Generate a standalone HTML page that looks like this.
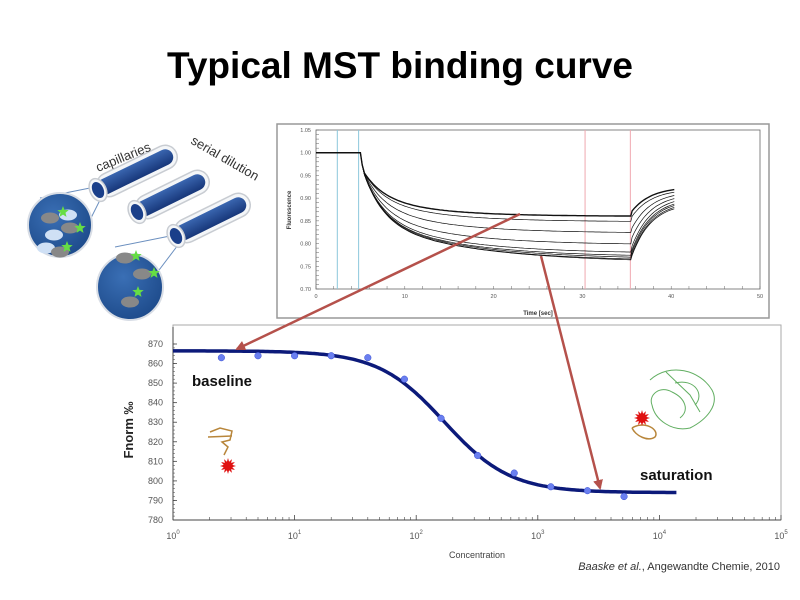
<!DOCTYPE html>
<html><head><meta charset="utf-8"><style>
html,body{margin:0;padding:0;background:#fff;width:800px;height:600px;overflow:hidden}
svg{display:block}
</style></head><body>
<svg id="s" width="800" height="600" xmlns="http://www.w3.org/2000/svg" font-family="Liberation Sans, sans-serif">
<defs>
<radialGradient id="cg" cx="40%" cy="35%" r="70%"><stop offset="0" stop-color="#3a6fb5"/><stop offset="1" stop-color="#1d4a8a"/></radialGradient>
<linearGradient id="tg" x1="0" y1="0" x2="0" y2="1"><stop offset="0" stop-color="#3a66b0"/><stop offset="1" stop-color="#17377a"/></linearGradient>
<marker id="ah" markerWidth="10" markerHeight="10" refX="8" refY="5" orient="auto" markerUnits="userSpaceOnUse"><path d="M0,0 L10,5 L0,10 z" fill="#b5514b"/></marker>
</defs>
<text x="400" y="78" text-anchor="middle" font-size="37" font-weight="bold" fill="#000">Typical MST binding curve</text>

<g id="tubes"></g>
<text transform="translate(98,172) rotate(-22)" font-size="13" fill="#333">capillaries</text>
<text transform="translate(190,143) rotate(30)" font-size="13" fill="#333">serial dilution</text>

<rect x="277" y="124" width="492" height="194" fill="#fff" stroke="#999" stroke-width="1.5"/>
<rect x="316" y="130" width="444" height="159" fill="none" stroke="#666" stroke-width="0.8"/>
<g id="top"></g>
<text transform="translate(291,210) rotate(-90)" text-anchor="middle" font-size="6" font-weight="bold" fill="#333">Fluorescence</text>
<text x="538" y="315" text-anchor="middle" font-size="6" font-weight="bold" fill="#333">Time [sec]</text>

<rect x="173" y="325" width="608" height="195" fill="#fff" stroke="#aaa" stroke-width="1"/>
<g id="bot"></g>
<text x="192" y="386" font-size="15" font-weight="bold" fill="#111">baseline</text>
<text x="640" y="480" font-size="15" font-weight="bold" fill="#111">saturation</text>
<text transform="translate(133,430) rotate(-90)" text-anchor="middle" font-size="13" font-weight="bold" fill="#222">Fnorm ‰</text>
<text x="477" y="558" text-anchor="middle" font-size="9" fill="#444">Concentration</text>
<text x="780" y="570" text-anchor="end" font-size="11" fill="#333"><tspan font-style="italic">Baaske et al.</tspan>, Angewandte Chemie, 2010</text>

<g stroke="#b8863b" fill="none" stroke-width="1.5">
<path d="M210,432 L220,428 L232,431 L230,440 L222,442 L228,447 L224,455 M208,437 L232,436"/>
</g>
<g stroke="#3a9a3a" fill="none" stroke-width="1" opacity="0.8">
<path d="M650,380 C670,362 700,370 712,390 C720,405 706,420 690,428 C672,432 655,420 652,405 C648,395 660,385 672,392 C685,398 690,410 680,418 M666,372 L690,395 L700,412 M675,383 C695,378 705,395 695,405"/>
</g>
<path d="M632,428 C645,420 660,430 655,437 C648,442 636,436 632,428" stroke="#b8863b" stroke-width="1.5" fill="none"/>
<path id="star1" fill="#e01010"/>
<path id="star2" fill="#e01010"/>

<line x1="520" y1="214" x2="237" y2="349" stroke="#b5514b" stroke-width="2.5" marker-end="url(#ah)"/>
<line x1="541" y1="256" x2="600" y2="488" stroke="#b5514b" stroke-width="2.5" marker-end="url(#ah)"/>
</svg>
<script>
var NS="http://www.w3.org/2000/svg";
function el(p,n,a,t){var e=document.createElementNS(NS,n);for(var k in a)e.setAttribute(k,a[k]);if(t!=null)e.textContent=t;p.appendChild(e);return e;}
var tg=document.getElementById('tubes');
function circ(cx,cy,r){el(tg,'circle',{cx:cx,cy:cy,r:r,fill:'url(#cg)',stroke:'#d8dde5','stroke-width':2});}
el(tg,'line',{x1:40,y1:198,x2:90,y2:188,stroke:'#6b8fbf','stroke-width':1});
el(tg,'line',{x1:82,y1:236,x2:100,y2:200,stroke:'#6b8fbf','stroke-width':1});
el(tg,'line',{x1:115,y1:247,x2:170,y2:236,stroke:'#6b8fbf','stroke-width':1});
el(tg,'line',{x1:150,y1:282,x2:178,y2:245,stroke:'#6b8fbf','stroke-width':1});
circ(60,225,32);circ(130,287,33);
function ov(cx,cy,c){el(tg,'ellipse',{cx:cx,cy:cy,rx:9,ry:5.5,fill:c});}
function st(cx,cy){var d='';for(var i=0;i<10;i++){var r=i%2?2.6:6,a=-Math.PI/2+i*Math.PI/5;d+=(i?'L':'M')+(cx+r*Math.cos(a)).toFixed(1)+','+(cy+r*Math.sin(a)).toFixed(1);}el(tg,'path',{d:d+'z',fill:'#66dd44'});}
ov(50,218,'#888');ov(68,215,'#cfe0f5');ov(70,228,'#888');ov(54,235,'#cfe0f5');ov(46,248,'#cfe0f5');ov(60,252,'#888');
st(63,212);st(80,228);st(67,247);
ov(125,258,'#888');ov(142,274,'#888');ov(130,302,'#888');st(136,256);st(154,273);st(138,292);
function tube(x1,y1,x2,y2){
 var a=Math.atan2(y2-y1,x2-x1)*180/Math.PI,L=Math.hypot(x2-x1,y2-y1);
 var g=el(tg,'g',{transform:'translate('+x1+','+y1+') rotate('+a+')'});
 el(g,'rect',{x:0,y:-12,width:L,height:24,rx:12,fill:'#f4f6f8',stroke:'#c8ccd2','stroke-width':1.5});
 el(g,'rect',{x:0,y:-8,width:L-4,height:16,rx:8,fill:'url(#tg)'});
 el(g,'ellipse',{cx:0,cy:0,rx:8,ry:12,fill:'#f4f6f8',stroke:'#c8ccd2','stroke-width':1.5});
 el(g,'ellipse',{cx:0,cy:0,rx:5.5,ry:8.5,fill:'#1a3f8a'});
}
tube(98,190,176,152);tube(137,212,208,177);tube(176,236,249,200);

var T=document.getElementById('top');
function tx(t){return 316+t*8.88;} function ty(v){return 130+(1.05-v)/0.35*159;}
var yl=['1.05','1.00','0.95','0.90','0.85','0.80','0.75','0.70'];
for(var i=0;i<8;i++){var y=130+i*159/7;el(T,'text',{x:311,y:y+2,'text-anchor':'end','font-size':5.5,fill:'#555'},yl[i]);}
for(var i=0;i<=5;i++){el(T,'text',{x:tx(i*10),y:298,'text-anchor':'middle','font-size':5.5,fill:'#555'},i*10);}
for(var t=0;t<=50;t+=2){el(T,'line',{x1:tx(t),y1:289,x2:tx(t),y2:286,stroke:'#666','stroke-width':0.5});}
for(var v=0;v<=35;v++){var y=130+v*159/35;el(T,'line',{x1:316,y1:y,x2:319,y2:y,stroke:'#666','stroke-width':0.5});}
[[2.4,'#8cc8dc'],[4.8,'#8cc8dc'],[30.3,'#f0a8b0'],[35.4,'#f0a8b0']].forEach(function(l){el(T,'line',{x1:tx(l[0]),y1:130,x2:tx(l[0]),y2:289,stroke:l[1],'stroke-width':1});});
var P=[0.86,0.848,0.823,0.797,0.778,0.770,0.765,0.760,0.757];
var E=[0.925,0.92,0.915,0.91,0.905,0.90,0.897,0.893,0.89];
P.forEach(function(p,k){
 var d='M'+tx(0)+','+ty(1);d+='L'+tx(5)+','+ty(1);
 for(var t=5.2;t<=35.5;t+=0.25){var f=p+(0.96-p)*(0.55*Math.exp(-(t-5.3)/2.2)+0.45*Math.exp(-(t-5.3)/(7+k*0.6)));if(t<5.3)f=1-(t-5)/0.3*0.04;d+='L'+tx(t).toFixed(1)+','+ty(f).toFixed(1);}
 var s=p+0.012+(k>2?0.005:0);
 for(var t=35.6;t<=40.5;t+=0.25){var f=E[k]-(E[k]-s)*Math.exp(-(t-35.6)/2.2);d+='L'+tx(t).toFixed(1)+','+ty(f).toFixed(1);}
 el(T,'path',{d:d,fill:'none',stroke:'#111','stroke-width':k==0?1.4:0.7});
});

var B=document.getElementById('bot');
function bx(c){return 173+Math.log10(c)*121.6;} function by(v){return 344+(870-v)/90*176;}
for(var v=780;v<=870;v+=10){el(B,'text',{x:163,y:by(v)+3,'text-anchor':'end','font-size':9,fill:'#555'},v);
 el(B,'line',{x1:173,y1:by(v),x2:177,y2:by(v),stroke:'#444','stroke-width':0.8});}
for(var v=780;v<=870;v+=2){el(B,'line',{x1:173,y1:by(v),x2:175,y2:by(v),stroke:'#444','stroke-width':0.5});}
el(B,'line',{x1:173,y1:327,x2:173,y2:520,stroke:'#444','stroke-width':1});
el(B,'line',{x1:173,y1:520,x2:781,y2:520,stroke:'#444','stroke-width':1});
for(var e=0;e<=5;e++){var x=173+e*121.6;
 var t=el(B,'text',{x:x,y:539,'text-anchor':'middle','font-size':9,fill:'#555'},'10');
 el(t,'tspan',{dy:-5,'font-size':6},e);
 if(e<5)for(var m=2;m<=9;m++){var xx=x+Math.log10(m)*121.6;el(B,'line',{x1:xx,y1:520,x2:xx,y2:517,stroke:'#444','stroke-width':0.6});}
 el(B,'line',{x1:x,y1:520,x2:x,y2:515,stroke:'#444','stroke-width':0.8});}
var d='';for(var l=0;l<=4.15;l+=0.02){var c=Math.pow(10,l);var f=794+72.5/(1+Math.pow(c/170,1.6));d+=(l?'L':'M')+bx(c).toFixed(1)+','+by(f).toFixed(1);}
el(B,'path',{d:d,fill:'none',stroke:'#0c1a7a','stroke-width':3.5});
[[2.5,863],[5,864],[10,864],[20,864],[40,863],[80,852],[160,832],[320,813],[640,804],[1280,797],[2560,795],[5120,792]].forEach(function(p){el(B,'circle',{cx:bx(p[0]),cy:by(p[1]),r:3.3,fill:'#6a7ff0',stroke:'#3a4fd0','stroke-width':0.5});});
function star(id,cx,cy,R){var d='';for(var i=0;i<24;i++){var r=i%2?R*0.55:R,a=i*Math.PI/12;d+=(i?'L':'M')+(cx+r*Math.cos(a)).toFixed(1)+','+(cy+r*Math.sin(a)).toFixed(1);}document.getElementById(id).setAttribute('d',d+'z');}
star('star1',228,466,8);star('star2',642,418,8);
</script>
</body></html>
